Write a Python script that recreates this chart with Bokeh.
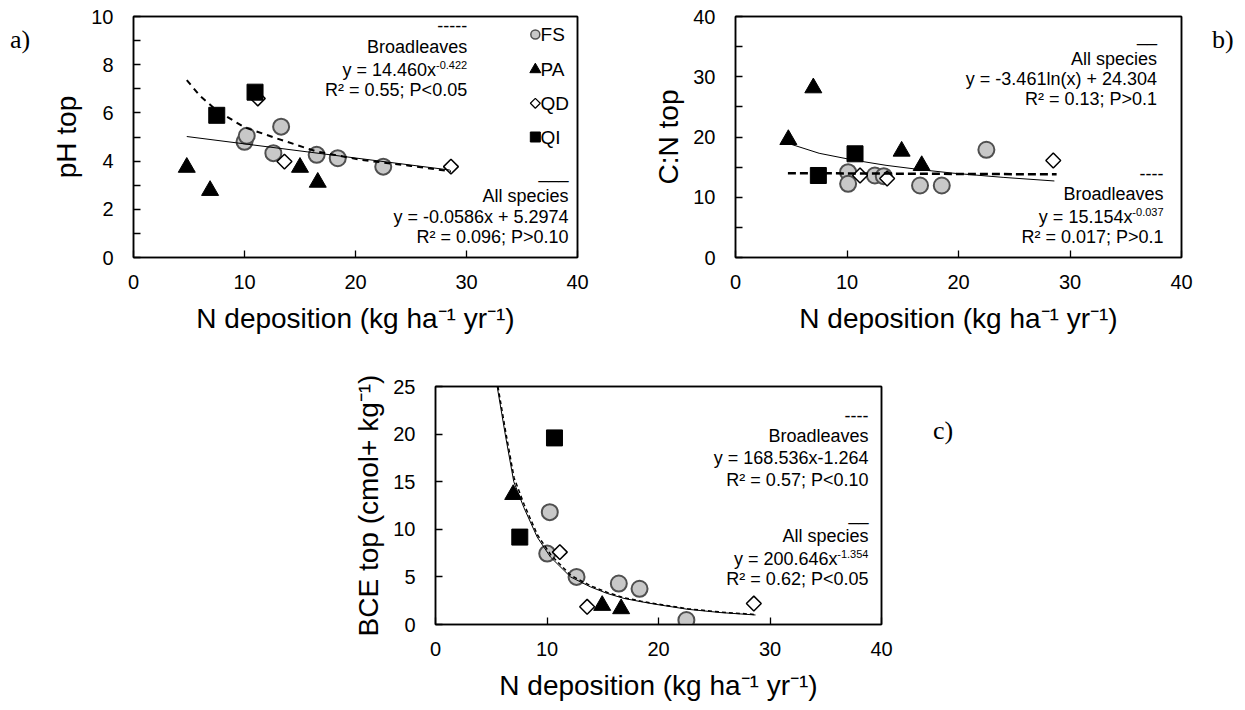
import numpy as np
from bokeh.plotting import figure
from bokeh.models import Range1d, FixedTicker, Label, Spacer, Div, LinearAxis
from bokeh.layouts import row, column
from bokeh.embed import file_html
from bokeh.resources import INLINE

SANS = "Liberation Sans"
SERIF = "Liberation Serif"

# ---------------- data ----------------
x_title = "N deposition (kg ha⁻¹ yr⁻¹)"
x_ticks = [0, 10, 20, 30, 40]
species = ["FS", "PA", "QD", "QI"]
panel_tags = ["a)", "b)", "c)"]

# Panel a) pH top
a_fs_x = [10.0, 10.2, 12.6, 13.3, 16.5, 18.4, 22.5]
a_fs_y = [4.8, 5.05, 4.33, 5.43, 4.26, 4.12, 3.77]
a_pa_x = [4.8, 6.9, 15.0, 16.6]
a_pa_y = [3.74, 2.78, 3.74, 3.12]
a_qd_x = [11.2, 13.6, 28.6]
a_qd_y = [6.6, 3.98, 3.77]
a_qi_x = [7.5, 10.95]
a_qi_y = [5.9, 6.86]
a_all_x = [4.8, 28.5]
a_all_y = [5.02, 3.63]
a_bl_x = [4.8, 6.0, 7.5, 10.0, 13.5, 16.5, 20.5, 25.0, 28.6]
a_bl_y = [7.36, 6.7, 6.1, 5.4, 4.85, 4.4, 4.05, 3.8, 3.57]

# Panel b) C:N top
b_fs_x = [10.1, 10.1, 12.5, 13.3, 16.55, 18.5, 22.5]
b_fs_y = [14.16, 12.23, 13.61, 13.5, 11.95, 11.95, 17.88]
b_pa_x = [4.74, 6.98, 14.9, 16.7]
b_pa_y = [19.57, 28.15, 17.64, 15.25]
b_qd_x = [11.17, 13.6, 28.5]
b_qd_y = [13.61, 13.1, 16.1]
b_qi_x = [7.43, 10.72]
b_qi_y = [13.61, 17.21]
b_all_x = [4.8, 7.5, 10.5, 13.5, 16.5, 19.5, 24.0, 28.6]
b_all_y = [18.9, 17.3, 16.2, 15.3, 14.6, 14.0, 13.3, 12.7]
b_bl_x = [4.7, 28.8]
b_bl_y = [14.0, 13.8]

# Panel c) BCE top
c_fs_x = [10.25, 10.02, 12.65, 16.44, 18.3, 22.5]
c_fs_y = [11.8, 7.45, 5.0, 4.3, 3.75, 0.47]
c_pa_x = [6.97, 14.95, 16.65]
c_pa_y = [13.65, 2.0, 1.65]
c_qd_x = [11.15, 13.6, 28.55]
c_qd_y = [7.6, 1.86, 2.2]
c_qi_x = [7.56, 10.67]
c_qi_y = [9.18, 19.6]
c_all_x = [5.53, 6.28, 7.02, 7.92, 9.12, 10.31, 12.11, 13.9, 15.4, 16.9, 18.4, 19.6, 22.6, 25.6, 28.7]
c_all_y = [25.0, 19.8, 15.0, 12.3, 9.18, 7.09, 5.0, 3.95, 3.26, 2.74, 2.4, 2.15, 1.6, 1.25, 1.0]
c_bl_x = [5.6, 6.3, 7.05, 7.95, 9.15, 10.35, 12.15, 13.95, 15.45, 16.95, 18.45, 19.65, 22.65, 25.65, 28.7]
c_bl_y = [25.0, 20.2, 15.4, 12.6, 9.4, 7.3, 5.15, 4.05, 3.35, 2.8, 2.45, 2.2, 1.65, 1.3, 1.05]


def make_fig(fw, fh, left, right, top, bottom, y_end, y_ticks, y_minor, y_title):
    p = figure(frame_width=fw, frame_height=fh,
               min_border_left=left, min_border_right=right,
               min_border_top=top, min_border_bottom=bottom,
               x_range=Range1d(0, 40), y_range=Range1d(0, y_end),
               output_backend="svg", toolbar_location=None)
    p.xgrid.visible = False
    p.ygrid.visible = False
    p.outline_line_color = "black"
    p.outline_line_width = 1.5
    p.outline_line_alpha = 1.0
    p.xaxis.ticker = FixedTicker(ticks=x_ticks)
    p.yaxis.ticker = FixedTicker(ticks=y_ticks, minor_ticks=y_minor)
    for ax in (p.xaxis[0], p.yaxis[0]):
        ax.axis_line_color = "black"
        ax.axis_line_width = 1.5
        ax.major_tick_in = 7
        ax.major_tick_out = 0
        ax.minor_tick_in = 7
        ax.minor_tick_out = 0
        ax.major_tick_line_color = "black"
        ax.minor_tick_line_color = "black"
        ax.major_tick_line_width = 1.3
        ax.minor_tick_line_width = 1.3
        ax.major_label_text_font = SANS
        ax.major_label_text_font_size = "20px"
        ax.major_label_text_color = "black"
        ax.axis_label_text_font = SANS
        ax.axis_label_text_font_size = "28px"
        ax.axis_label_text_font_style = "normal"
        ax.axis_label_text_color = "black"
    p.xaxis.axis_label = x_title
    p.yaxis.axis_label = y_title
    p.xaxis.major_label_standoff = 17
    p.yaxis.major_label_standoff = 20
    p.xaxis.axis_label_standoff = 11
    p.yaxis.axis_label_standoff = 6
    # closing box edges (top and right), no ticks, no labels
    for side in ("above", "right"):
        bx = LinearAxis(ticker=FixedTicker(ticks=[]), axis_line_color="black",
                        axis_line_width=1.5, major_tick_in=0, major_tick_out=0,
                        minor_tick_in=0, minor_tick_out=0,
                        major_label_text_font_size="0px", major_label_standoff=0,
                        axis_label_standoff=0)
        p.add_layout(bx, side)
    return p


def add_points(p, fx, fy, px, py, dx, dy, qx, qy):
    p.scatter(fx, fy, marker="circle", size=16, fill_color="#c8c8c8",
              line_color="#505050", line_width=2)
    p.scatter(px, py, marker="triangle", size=17, fill_color="black",
              line_color="black")
    p.scatter(dx, dy, marker="square", angle=np.pi / 4, size=10.5,
              fill_color="white", line_color="black", line_width=1.5)
    p.scatter(qx, qy, marker="square", size=16, fill_color="black",
              line_color="black")


def add_lines(p, ax_, ay_, bx_, by_, dash="6 5", dash_w=2):
    p.line(ax_, ay_, line_color="black", line_width=1)
    p.line(bx_, by_, line_color="black", line_width=dash_w, line_dash=dash)


def txt(p, x, y, s, size="18px", align="right", baseline="middle", font=SANS):
    p.add_layout(Label(x=x, y=y, text=s, text_align=align, text_baseline=baseline,
                       text_font=font, text_font_size=size, text_color="black"))


def tag(s, w, h, top, left_pad):
    return Div(text=(f'<div style="font-family:{SERIF};font-size:26px;'
                     f'line-height:30px;margin-top:{top}px;padding-left:{left_pad}px;'
                     f'color:black">{s}</div>'), width=w, height=h, margin=0)


# ---------------- panel a ----------------
pa = make_fig(444, 241, 103, 43, 16, 84, 10, [0, 2, 4, 6, 8, 10], [1, 3, 5, 7, 9], "pH top")
add_points(pa, a_fs_x, a_fs_y, a_pa_x, a_pa_y, a_qd_x, a_qd_y, a_qi_x, a_qi_y)
add_lines(pa, a_all_x, a_all_y, a_bl_x, a_bl_y)
txt(pa, 30.06, 9.63, "-----")
txt(pa, 30.06, 8.73, "Broadleaves")
txt(pa, 27.26, 7.76, "y = 14.460x")
txt(pa, 30.06, 7.97, "-0.422", size="11px")
txt(pa, 30.06, 6.93, "R² = 0.55; P<0.05")
txt(pa, 39.2, 3.53, "___", baseline="alphabetic")
txt(pa, 39.2, 2.57, "All species")
txt(pa, 39.2, 1.67, "y = -0.0586x + 5.2974")
txt(pa, 39.2, 0.84, "R² = 0.096; P>0.10")

# legend (panel a)
leg_y = [9.25, 7.8, 6.4, 5.0]
leg_mx = 36.2
pa.scatter([leg_mx], [leg_y[0]], marker="circle", size=9, fill_color="#c8c8c8",
           line_color="#505050", line_width=1.5)
pa.scatter([leg_mx], [leg_y[1]], marker="triangle", size=11, fill_color="black",
           line_color="black")
pa.scatter([leg_mx], [leg_y[2]], marker="square", angle=np.pi / 4, size=7,
           fill_color="white", line_color="black", line_width=1.2)
pa.scatter([leg_mx], [leg_y[3]], marker="square", size=10, fill_color="black",
           line_color="black")
for s, yy in zip(species, leg_y):
    txt(pa, 36.67, yy, s, size="19px", align="left")

# ---------------- panel b ----------------
pb = make_fig(446, 241, 115, 26, 16, 84, 40, [0, 10, 20, 30, 40], [5, 15, 25, 35], "C:N top")
add_points(pb, b_fs_x, b_fs_y, b_pa_x, b_pa_y, b_qd_x, b_qd_y, b_qi_x, b_qi_y)
add_lines(pb, b_all_x, b_all_y, b_bl_x, b_bl_y, dash="8 4", dash_w=2.5)
txt(pb, 37.8, 36.9, "__", baseline="alphabetic")
txt(pb, 37.8, 32.98, "All species")
txt(pb, 37.8, 29.66, "y = -3.461ln(x) + 24.304")
txt(pb, 37.8, 26.34, "R² = 0.13; P>0.1")
txt(pb, 38.39, 13.9, "----")
txt(pb, 38.39, 10.57, "Broadleaves")
txt(pb, 35.6, 6.69, "y = 15.154x")
txt(pb, 38.39, 7.52, "-0.037", size="11px")
txt(pb, 38.39, 3.37, "R² = 0.017; P>0.1")

# ---------------- panel c ----------------
pc = make_fig(446, 238, 120, 52, 45, 82, 25, [0, 5, 10, 15, 20, 25], [], "BCE top (cmol+ kg⁻¹)")
add_points(pc, c_fs_x, c_fs_y, c_pa_x, c_pa_y, c_qd_x, c_qd_y, c_qi_x, c_qi_y)
add_lines(pc, c_all_x, c_all_y, c_bl_x, c_bl_y, dash="4 3", dash_w=1.5)
txt(pc, 38.83, 21.95, "----")
txt(pc, 38.83, 19.78, "Broadleaves")
txt(pc, 38.83, 17.44, "y = 168.536x-1.264")
txt(pc, 38.83, 15.23, "R² = 0.57; P<0.10")
txt(pc, 38.83, 11.59, "__", baseline="alphabetic")
txt(pc, 38.83, 9.28, "All species")
txt(pc, 36.05, 6.93, "y = 200.646x")
txt(pc, 38.83, 7.43, "-1.354", size="11px")
txt(pc, 38.83, 4.73, "R² = 0.62; P<0.05")

tag_a = tag(panel_tags[0], 30, 341, 25, 10)
tag_b = tag(panel_tags[1], 30, 341, 25, 5)
tag_c = tag(panel_tags[2], 40, 365, 75, 0)

layout = column(row(tag_a, pa, pb, tag_b),
                row(Spacer(width=315, height=365, margin=0), pc, tag_c))

with open("out.html", "w") as f:
    f.write(file_html(layout, INLINE, title="N deposition panels"))
